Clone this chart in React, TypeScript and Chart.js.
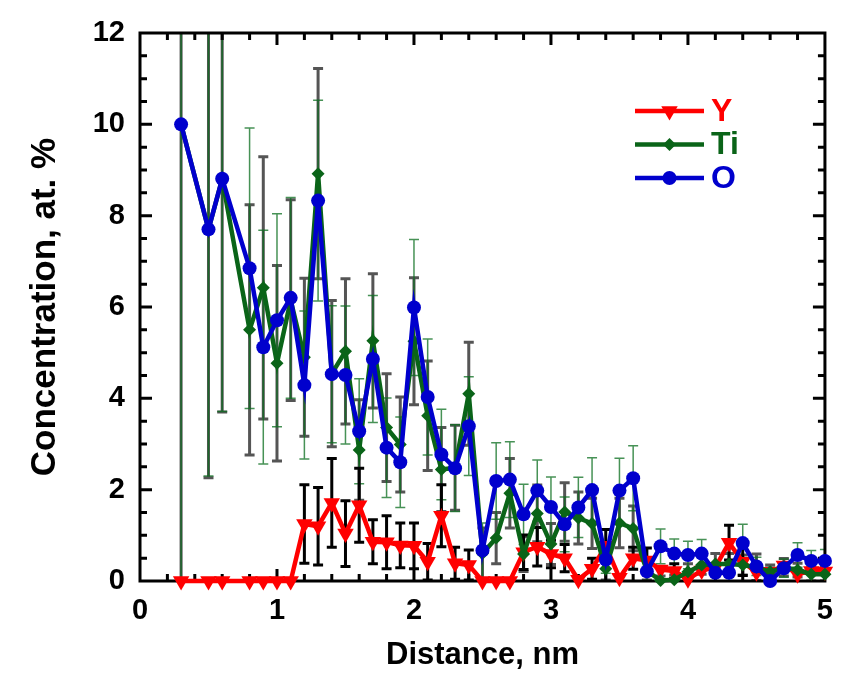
import React, { useEffect, useRef } from 'react';
import { Chart, registerables } from 'chart.js';

Chart.register(...registerables);

// ---- data ----
const distance = [
  0.3, 0.5, 0.6, 0.8, 0.9, 1.0, 1.1, 1.2, 1.3, 1.4, 1.5, 1.6, 1.7, 1.8, 1.9, 2.0,
  2.1, 2.2, 2.3, 2.4, 2.5, 2.6, 2.7, 2.8, 2.9, 3.0, 3.1, 3.2, 3.3, 3.4, 3.5, 3.6,
  3.7, 3.8, 3.9, 4.0, 4.1, 4.2, 4.3, 4.4, 4.5, 4.6, 4.7, 4.8, 4.9, 5.0,
];

const yttrium = [
  0, 0, 0, 0, 0, 0, 0, 1.25, 1.2, 1.71, 1.04, 1.66, 0.86, 0.85, 0.78, 0.77,
  0.42, 1.43, 0.39, 0.35, 0, 0, 0, 0.63, 0.75, 0.59, 0.5, 0.03, 0.27, 0.77, 0.07, 0.5,
  0.45, 0.25, 0.22, 0.04, 0.23, 0.3, 0.84, 0.42, 0.19, 0.2, 0.34, 0.15, 0.22, 0.21,
];
const yttriumErr = [
  0, 0, 0, 0, 0, 0, 0, 0.86, 0.85, 0.97, 0.72, 0.81, 0.48, 0.58, 0.49, 0.5,
  0.4, 0.68, 0.35, 0.33, 0, 0, 0, 0.38, 0.42, 0.3, 0.3, 0, 0.23, 0.36, 0, 0.24,
  0.27, 0, 0.16, 0, 0, 0, 0.38, 0.3, 0, 0.08, 0, 0, 0, 0,
];

const titanium = [
  10.0, 7.7, 8.8, 5.5, 6.42, 4.77, 6.15, 4.9, 8.92, 4.54, 5.03, 2.87, 5.26, 3.36, 2.99, 5.25,
  3.62, 2.44, 2.48, 4.1, 0.6, 0.94, 1.92, 0.59, 1.48, 0.81, 1.51, 1.38, 1.26, 0.27, 1.27, 1.15,
  0.22, 0.01, 0.03, 0.2, 0.35, 0.37, 0.37, 0.35, 0.3, 0.2, 0.3, 0.24, 0.15, 0.15,
];
const titaniumErr = [
  10.0, 5.44, 5.1, 2.74, 2.87, 2.14, 2.2, 1.73, 2.3, 1.6, 1.59, 1.1, 1.47, 1.18, 1.04, 1.39,
  1.2, 0.92, 0.93, 1.13, 0.56, 0.56, 0.76, 0.38, 0.62, 0.45, 0.64, 0.57, 0.55, 0.25, 0.54, 0.49,
  0.2, 0.1, 0.1, 0.18, 0.2, 0.23, 0.23, 0.22, 0.29, 0.15, 0.19, 0.15, 0.15, 0.15,
];

const oxygen = [
  10.0, 7.7, 8.81, 6.85, 5.12, 5.71, 6.2, 4.29, 8.33, 4.53, 4.51, 3.28, 4.86, 2.92, 2.6, 5.99,
  4.03, 2.77, 2.47, 3.39, 0.67, 2.19, 2.22, 1.46, 1.98, 1.62, 1.24, 1.61, 1.99, 0.47, 1.98, 2.25,
  0.21, 0.76, 0.6, 0.57, 0.6, 0.18, 0.18, 0.83, 0.32, 0.0, 0.28, 0.57, 0.44, 0.44,
];
const oxygenErr = [
  10.0, 5.4, 5.1, 3.07, 2.56, 2.33, 2.2, 1.62, 2.2, 1.5, 1.51, 1.15, 1.39, 1.09, 0.99, 1.49,
  1.27, 0.99, 0.95, 1.08, 0.6, 0.84, 0.83, 0.66, 0.67, 0.66, 0.6, 0.66, 0.71, 0.3, 0.71, 0.71,
  0.2, 0.38, 0.32, 0.3, 0.31, 0.2, 0.2, 0.41, 0.2, 0.15, 0.2, 0.27, 0.23, 0.25,
];

const xMin = 0;
const xMax = 5;
const xMajorStep = 1;
const xMinorStep = 0.2;
const yMin = 0;
const yMax = 12;
const yMajorStep = 2;
const yMinorStep = 0.5;

const FONT = '"Liberation Sans", Arial, Helvetica, sans-serif';
const RED = '#FF0000';
const GREEN = '#0A6418';
const BLUE = '#0000CD';

const TRI_R = 9.5;
const CIRCLE_R = 7;
const DIAMOND_R = 6.5;

function drawMarker(ctx: CanvasRenderingContext2D, style: string, x: number, y: number, color: string) {
  ctx.save();
  ctx.fillStyle = color;
  ctx.beginPath();
  if (style === 'circle') {
    ctx.arc(x, y, CIRCLE_R, 0, Math.PI * 2);
  } else if (style === 'rectRot') {
    const r = DIAMOND_R;
    ctx.moveTo(x - r, y);
    ctx.lineTo(x, y - r);
    ctx.lineTo(x + r, y);
    ctx.lineTo(x, y + r);
    ctx.closePath();
  } else {
    const r = TRI_R;
    const w = r * Math.sqrt(3) / 2;
    ctx.moveTo(x - w, y - r / 2);
    ctx.lineTo(x + w, y - r / 2);
    ctx.lineTo(x, y + r);
    ctx.closePath();
  }
  ctx.fill();
  ctx.restore();
}

const errorAndFramePlugin = {
  id: 'errorAndFrame',
  beforeDatasetsDraw(chart: any) {
    const { ctx, chartArea } = chart;
    const xs = chart.scales.x;
    const ys = chart.scales.y;
    ctx.save();
    ctx.beginPath();
    ctx.rect(chartArea.left, chartArea.top, chartArea.right - chartArea.left, chartArea.bottom - chartArea.top);
    ctx.clip();
    // draw order: Ti (gray), O (thin green), Y (black)
    const drawOrder = [1, 2, 0];
    drawOrder.forEach((di) => {
      const ds: any = chart.data.datasets[di];
      const errs: number[] = ds.errors;
      ctx.strokeStyle = ds.errColor;
      ctx.lineWidth = ds.errWidth;
      const capHalf = ds.capHalf;
      ds.data.forEach((pt: any, i: number) => {
        const e = errs[i];
        if (!e) return;
        const px = xs.getPixelForValue(pt.x);
        const top = ys.getPixelForValue(pt.y + e);
        const bot = ys.getPixelForValue(pt.y - e);
        ctx.beginPath();
        ctx.moveTo(px, top);
        ctx.lineTo(px, bot);
        if (top >= chartArea.top) {
          ctx.moveTo(px - capHalf, top);
          ctx.lineTo(px + capHalf, top);
        }
        if (bot <= chartArea.bottom) {
          ctx.moveTo(px - capHalf, bot);
          ctx.lineTo(px + capHalf, bot);
        }
        ctx.stroke();
      });
    });
    ctx.restore();

    // frame and inward ticks
    ctx.save();
    ctx.strokeStyle = '#000';
    ctx.lineWidth = 3;
    const { left, right, top, bottom } = chartArea;
    ctx.beginPath();
    const nx = Math.round((xMax - xMin) / xMinorStep);
    for (let k = 1; k < nx; k++) {
      const v = xMin + k * xMinorStep;
      const major = Math.abs(v / xMajorStep - Math.round(v / xMajorStep)) < 1e-6;
      const len = major ? 12 : 7;
      const px = xs.getPixelForValue(v);
      ctx.moveTo(px, bottom);
      ctx.lineTo(px, bottom - len);
      ctx.moveTo(px, top);
      ctx.lineTo(px, top + len);
    }
    const ny = Math.round((yMax - yMin) / yMinorStep);
    for (let k = 1; k < ny; k++) {
      const v = yMin + k * yMinorStep;
      const major = Math.abs(v / yMajorStep - Math.round(v / yMajorStep)) < 1e-6;
      const len = major ? 12 : 7;
      const py = ys.getPixelForValue(v);
      ctx.moveTo(left, py);
      ctx.lineTo(left + len, py);
      ctx.moveTo(right, py);
      ctx.lineTo(right - len, py);
    }
    ctx.stroke();
    ctx.lineWidth = 3;
    ctx.strokeRect(left, top, right - left, bottom - top);
    ctx.restore();
  },
  afterDraw(chart: any) {
    const { ctx, chartArea } = chart;
    const x0 = chartArea.left + 495;
    const x1 = chartArea.left + 564;
    const rowTop = chartArea.top + 78;
    const rowStep = 33.5;
    ctx.save();
    ctx.font = `bold 32px ${FONT}`;
    ctx.textBaseline = 'middle';
    ctx.textAlign = 'left';
    chart.data.datasets.forEach((ds: any, i: number) => {
      const yy = rowTop + i * rowStep;
      ctx.strokeStyle = ds.borderColor;
      ctx.lineWidth = 4.5;
      ctx.beginPath();
      ctx.moveTo(x0, yy);
      ctx.lineTo(x1, yy);
      ctx.stroke();
      drawMarker(ctx, ds.pointStyle, (x0 + x1) / 2, yy, ds.borderColor);
      ctx.fillStyle = ds.borderColor;
      ctx.fillText(ds.label, x1 + 7, yy + 1);
    });
    ctx.restore();
  },
};

export default function App() {
  const canvasRef = useRef<HTMLCanvasElement | null>(null);

  useEffect(() => {
    const canvas = canvasRef.current;
    if (!canvas) return;
    const toPts = (arr: number[]) => distance.map((d, i) => ({ x: d, y: arr[i] }));
    const chart = new Chart(canvas, {
      type: 'line',
      data: {
        datasets: [
          {
            label: 'Y',
            data: toPts(yttrium),
            borderColor: RED,
            backgroundColor: RED,
            borderWidth: 4.5,
            pointStyle: 'triangle',
            rotation: 180,
            pointRadius: TRI_R,
            pointBorderWidth: 0,
            pointBackgroundColor: RED,
            order: 3,
            clip: false,
            errors: yttriumErr,
            errColor: '#000000',
            errWidth: 3,
            capHalf: 5,
          } as any,
          {
            label: 'Ti',
            data: toPts(titanium),
            borderColor: GREEN,
            backgroundColor: GREEN,
            borderWidth: 4.5,
            pointStyle: 'rectRot',
            pointRadius: DIAMOND_R,
            pointBorderWidth: 0,
            pointBackgroundColor: GREEN,
            order: 2,
            clip: false,
            errors: titaniumErr,
            errColor: '#555555',
            errWidth: 3,
            capHalf: 5,
          } as any,
          {
            label: 'O',
            data: toPts(oxygen),
            borderColor: BLUE,
            backgroundColor: BLUE,
            borderWidth: 4.5,
            pointStyle: 'circle',
            pointRadius: CIRCLE_R,
            pointBorderWidth: 0,
            pointBackgroundColor: BLUE,
            order: 1,
            clip: false,
            errors: oxygenErr,
            errColor: 'rgba(10,110,30,0.75)',
            errWidth: 1.5,
            capHalf: 5,
          } as any,
        ],
      },
      options: {
        responsive: false,
        animation: false,
        devicePixelRatio: 1,
        layout: { padding: { top: 33, right: 21, left: 0, bottom: 0 } },
        plugins: {
          legend: { display: false },
          tooltip: { enabled: false },
        },
        elements: { line: { tension: 0 } },
        scales: {
          x: {
            type: 'linear',
            min: xMin,
            max: xMax,
            grid: { display: false, drawTicks: false },
            border: { display: false },
            ticks: {
              stepSize: xMajorStep,
              color: '#000',
              padding: 13,
              font: { family: FONT, size: 29, weight: 'bold' },
            },
            title: {
              display: true,
              text: 'Distance, nm',
              color: '#000',
              font: { family: FONT, size: 31, weight: 'bold' },
              padding: { top: 0, bottom: 7 },
            },
            afterFit: (scale: any) => {
              scale.height = 100;
            },
          },
          y: {
            type: 'linear',
            min: yMin,
            max: yMax,
            grid: { display: false, drawTicks: false },
            border: { display: false },
            ticks: {
              stepSize: yMajorStep,
              color: '#000',
              padding: 15,
              font: { family: FONT, size: 29, weight: 'bold' },
            },
            title: {
              display: true,
              text: 'Concentration, at. %',
              color: '#000',
              font: { family: FONT, size: 35, weight: 'bold' },
              padding: { top: 24, bottom: 0 },
            },
            afterFit: (scale: any) => {
              scale.width = 140;
            },
          },
        },
      } as any,
      plugins: [errorAndFramePlugin],
    });
    return () => chart.destroy();
  }, []);

  return (
    <div style={{ position: 'fixed', left: 0, top: 0, width: 846, height: 681, background: '#fff' }}>
      <canvas ref={canvasRef} width={846} height={681} style={{ width: 846, height: 681, display: 'block' }} />
    </div>
  );
}
